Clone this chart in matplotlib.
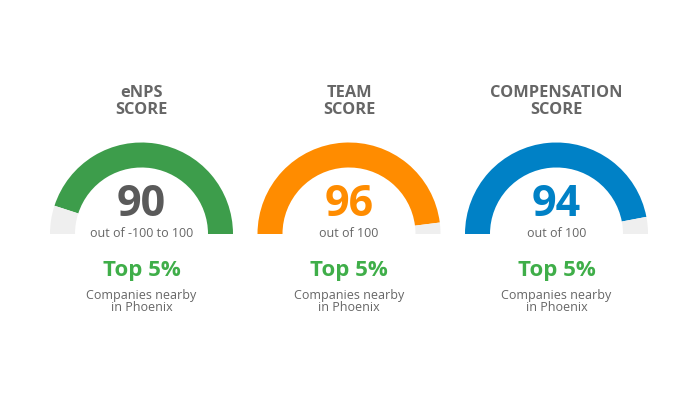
import matplotlib
matplotlib.use("Agg")
import matplotlib.pyplot as plt
from matplotlib.patches import Wedge

plt.rcParams['font.family'] = ['Open Sans', 'DejaVu Sans']

titles = ["eNPS\nSCORE", "TEAM\nSCORE", "COMPENSATION\nSCORE"]
scores = [90, 96, 94]
fill_fraction_pct = [90, 96, 94]          # share of the arc that is filled (%)
subtitles = ["out of -100 to 100", "out of 100", "out of 100"]
ranks = ["Top 5%", "Top 5%", "Top 5%"]
rank_notes = ["Companies nearby\nin Phoenix"] * 3

colors = ["#3d9d4b", "#ff8c00", "#0081c6"]
number_colors = ["#5a5a5a", "#ff8c00", "#0081c6"]
fill_from_right = [True, False, False]

W, H = 700, 394
fig = plt.figure(figsize=(W / 100, H / 100), dpi=100)
ax = fig.add_axes([0, 0, 1, 1])
ax.set_xlim(0, W)
ax.set_ylim(0, H)
ax.set_aspect('equal')
ax.axis('off')

centers_x = [141.5, 349, 556.5]
cy = H - 234
R = 91.5
width = 25
gray = "#efefef"
text_gray = "#666666"
green_text = "#3fae49"

for i in range(3):
    cx = centers_x[i]
    span = 180 * fill_fraction_pct[i] / 100
    if fill_from_right[i]:
        ax.add_patch(Wedge((cx, cy), R, 0, span, width=width, facecolor=colors[i], edgecolor='none'))
        ax.add_patch(Wedge((cx, cy), R, span, 180, width=width, facecolor=gray, edgecolor='none'))
    else:
        ax.add_patch(Wedge((cx, cy), R, 180 - span, 180, width=width, facecolor=colors[i], edgecolor='none'))
        ax.add_patch(Wedge((cx, cy), R, 0, 180 - span, width=width, facecolor=gray, edgecolor='none'))

    t1, t2 = titles[i].split("\n")
    ax.text(cx, H - 97, t1, ha='center', va='baseline', fontsize=11.8, fontweight='bold', color=text_gray)
    ax.text(cx, H - 113.5, t2, ha='center', va='baseline', fontsize=11.8, fontweight='bold', color=text_gray)

    ax.text(cx, H - 216, str(scores[i]), ha='center', va='baseline', fontsize=31, fontweight='bold',
            color=number_colors[i])
    ax.text(cx, H - 237, subtitles[i], ha='center', va='baseline', fontsize=9, color=text_gray)

    ax.text(cx, H - 276, ranks[i], ha='center', va='baseline', fontsize=16, fontweight='bold', color=green_text)
    n1, n2 = rank_notes[i].split("\n")
    ax.text(cx, H - 299, n1, ha='center', va='baseline', fontsize=9, color=text_gray)
    ax.text(cx, H - 311, n2, ha='center', va='baseline', fontsize=9, color=text_gray)

fig.savefig("out.png", dpi=100, facecolor='white')
